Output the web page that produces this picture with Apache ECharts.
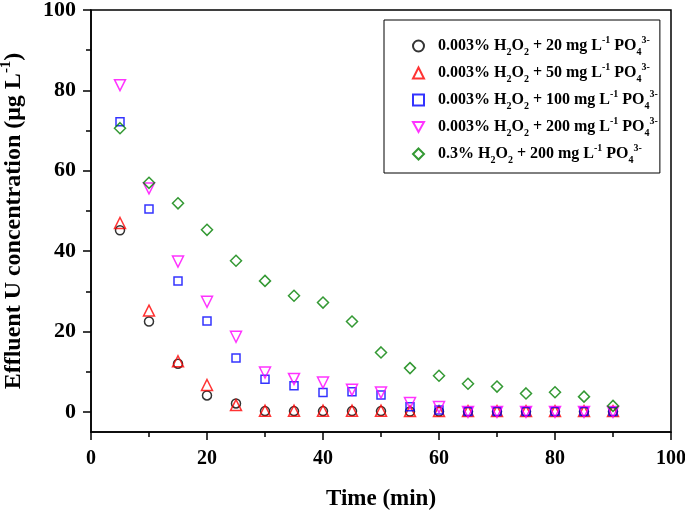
<!DOCTYPE html>
<html>
<head>
<meta charset="utf-8">
<script src="https://cdn.jsdelivr.net/npm/echarts@6/dist/echarts.min.js"></script>
<style>html,body{margin:0;padding:0;background:#fff}#c{width:685px;height:510px}</style>
</head>
<body>
<div id="c"></div>
<script>
const times = [5,10,15,20,25,30,35,40,45,50,55,60,65,70,75,80,85,90];
const s20  = [45.2,22.5,12.0,4.1,2.1,0.2,0.2,0.2,0.2,0.2,0.1,0.1,0.1,0.1,0.1,0.1,0.1,0.1];
const s50  = [47.0,25.2,12.6,6.7,1.7,0.3,0.3,0.3,0.3,0.3,0.2,0.2,0.2,0.2,0.2,0.2,0.2,0.2];
const s100 = [72.2,50.5,32.6,22.6,13.4,8.1,6.5,4.8,5.0,4.2,1.3,0.5,0.1,0.1,0.1,0.1,0.1,0.1];
const s200 = [81.3,55.6,37.4,27.4,18.7,9.8,8.2,7.3,5.5,4.8,2.2,1.2,0.0,0.0,0.0,0.0,0.0,0.0];
const h03  = [70.6,57.0,51.9,45.3,37.6,32.6,28.9,27.2,22.5,14.8,10.9,9.0,7.0,6.3,4.6,4.9,3.8,1.5];
const seriesNames = [
  '0.003% H2O2 + 20 mg L-1 PO43-',
  '0.003% H2O2 + 50 mg L-1 PO43-',
  '0.003% H2O2 + 100 mg L-1 PO43-',
  '0.003% H2O2 + 200 mg L-1 PO43-',
  '0.3% H2O2 + 200 mg L-1 PO43-'
];
const richNames = [
  '{s| }{n|0.003% H}{b|2}{n|O}{b|2}{n| + 20 mg L}{p|-1}{n| PO}{b|4}{p|3-}',
  '{s| }{n|0.003% H}{b|2}{n|O}{b|2}{n| + 50 mg L}{p|-1}{n| PO}{b|4}{p|3-}',
  '{s| }{n|0.003% H}{b|2}{n|O}{b|2}{n| + 100 mg L}{p|-1}{n| PO}{b|4}{p|3-}',
  '{s| }{n|0.003% H}{b|2}{n|O}{b|2}{n| + 200 mg L}{p|-1}{n| PO}{b|4}{p|3-}',
  '{s| }{n|0.3% H}{b|2}{n|O}{b|2}{n| + 200 mg L}{p|-1}{n| PO}{b|4}{p|3-}'
];
const yLabels = [0,20,40,60,80,100];
const yMinor = [10,30,50,70,90];

const font = '"Liberation Serif","Times New Roman",serif';
const datasets = [s20, s50, s100, s200, h03];
const colors = ['#000000','#ff0000','#0000ff','#ff00ff','#008000'];
const symbols = ['circle','triangle','rect','triangle','diamond'];
const rotates = [0,0,0,180,0];
const sizes = [9,11,8,11,11];
const legendIcons = ['circle','triangle','rect','path://M0,0L10,0L5,9Z','diamond'];

const series = datasets.map((arr,i)=>({
  name: seriesNames[i],
  type: 'scatter',
  data: times.map((t,j)=>[t, arr[j]]),
  symbol: symbols[i],
  symbolRotate: rotates[i],
  symbolSize: sizes[i],
  itemStyle: {color: 'rgba(255,255,255,0)', borderColor: colors[i], borderWidth: 1.5},
  emphasis: {disabled: true},
  z: 2 + i
}));

const chart = echarts.init(document.getElementById('c'), null, {renderer:'canvas'});
chart.setOption({
  animation: false,
  backgroundColor: '#fff',
  grid: {left: 91, right: 14, top: 10, bottom: 78, outerBoundsMode: 'none', containLabel: false, show: true, borderColor: '#000', borderWidth: 1.5, backgroundColor: 'transparent'},
  legend: {
    orient: 'vertical',
    left: 384, top: 20,
    padding: [15, 2, 8, 28],
    itemGap: 5,
    itemWidth: 11, itemHeight: 11,
    itemTextGap: 6,
    borderColor: '#000', borderWidth: 1,
    data: seriesNames.map((n,i)=>({name: n, icon: legendIcons[i]})),
    formatter: name => richNames[seriesNames.indexOf(name)],
    textStyle: {
      color: '#000', fontFamily: font, fontWeight: 'bold', fontSize: 16,
      rich: {
        s: {width: 9, fontSize: 16, lineHeight: 22},
        n: {fontFamily: font, fontWeight: 'bold', fontSize: 16, lineHeight: 22, color: '#000'},
        b: {fontFamily: font, fontWeight: 'bold', fontSize: 10, lineHeight: 12, verticalAlign: 'bottom', color: '#000'},
        p: {fontFamily: font, fontWeight: 'bold', fontSize: 10, lineHeight: 12, verticalAlign: 'top', color: '#000'}
      }
    }
  },
  xAxis: {
    type: 'value', min: 0, max: 100, interval: 20,
    name: 'Time (min)', nameLocation: 'middle', nameGap: 56,
    nameTextStyle: {fontFamily: font, fontWeight: 'bold', fontSize: 23, color: '#000'},
    axisLine: {onZero: false, lineStyle: {color: '#000', width: 1.5}},
    axisTick: {inside: false, length: 8, lineStyle: {color: '#000', width: 1.5}},
    minorTick: {show: true, splitNumber: 2, length: 5, lineStyle: {color: '#000', width: 1.5}},
    splitLine: {show: false},
    axisLabel: {fontFamily: font, fontWeight: 'bold', fontSize: 20, color: '#000', margin: 17}
  },
  yAxis: [{
    type: 'value', min: -5, max: 100, position: 'left',
    name: '{n|Effluent U concentration (μg L}{p|-1}{n|)}', nameLocation: 'middle', nameGap: 62, nameRotate: 90,
    nameTextStyle: {
      fontFamily: font, fontWeight: 'bold', fontSize: 24, color: '#000',
      rich: {
        n: {fontFamily: font, fontWeight: 'bold', fontSize: 24, lineHeight: 30, color: '#000'},
        p: {fontFamily: font, fontWeight: 'bold', fontSize: 15, lineHeight: 16, verticalAlign: 'top', color: '#000'}
      }
    },
    axisLine: {show: true, onZero: false, lineStyle: {color: '#000', width: 1.5}},
    axisTick: {show: true, inside: false, length: 8, customValues: yLabels, lineStyle: {color: '#000', width: 1.5}},
    splitLine: {show: false},
    axisLabel: {customValues: yLabels, fontFamily: font, fontWeight: 'bold', fontSize: 22, color: '#000', margin: 15}
  }, {
    type: 'value', min: -5, max: 100, position: 'left',
    axisLine: {show: false},
    axisTick: {show: true, inside: false, length: 5, customValues: yMinor, lineStyle: {color: '#000', width: 1.5}},
    axisLabel: {show: false},
    splitLine: {show: false}
  }],
  series: series
});
</script>
</body>
</html>
